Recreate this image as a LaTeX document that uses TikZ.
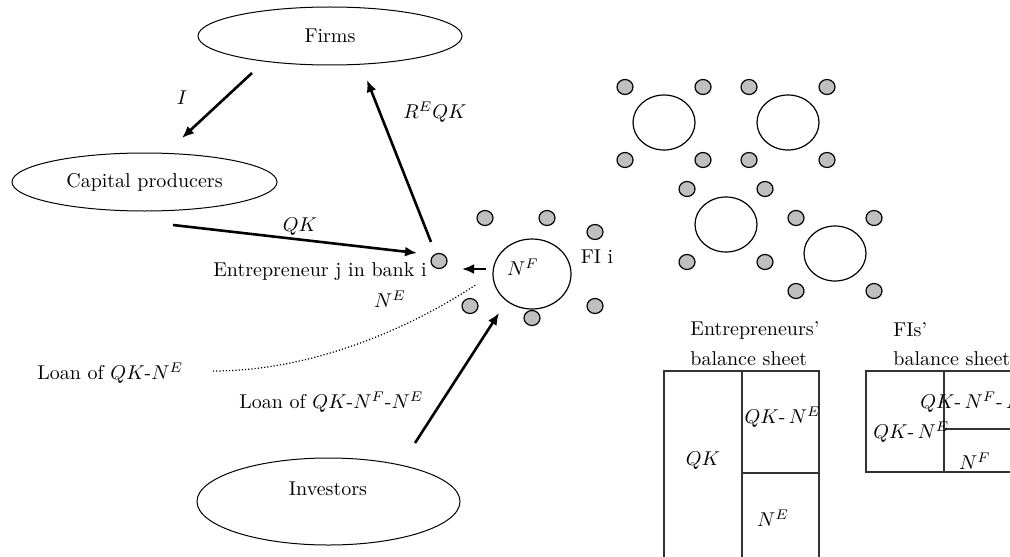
\documentclass[tikz,border=0pt]{standalone}
\usetikzlibrary{shapes.geometric,arrows.meta}
\begin{document}
\begin{tikzpicture}[x=0.5pt,y=-0.5pt,
  every node/.style={font=\fontsize{10}{12}\selectfont},
  oval/.style={ellipse,draw,line width=0.5pt,inner sep=0pt},
  dot/.style={ellipse,draw,fill=black!25,line width=0.6pt,minimum width=8pt,minimum height=7.5pt,inner sep=0pt},
  bank/.style={ellipse,draw,line width=0.6pt,minimum width=31pt,minimum height=27.5pt,inner sep=0pt},
  flow/.style={line width=1.3pt,-{Latex[length=6pt,width=5pt]}},
  txt/.style={inner sep=0pt},
  sheet/.style={draw=black!80,line width=0.6pt}]
\clip (0,0) rectangle (1010,556);

% sectors
\node[oval,minimum width=132pt,minimum height=29pt] (firms) at (330,36) {Firms};
\node[oval,minimum width=132.5pt,minimum height=29pt] (cap) at (144.5,182) {Capital producers};
\node[oval,minimum width=131.5pt,minimum height=43.5pt] (inv) at (328.5,501.5) {};
\node[txt] (invt) at (328,489) {Investors};

% FI i with its entrepreneurs
\node[dot] (ent) at (439,261) {};
\node[ellipse,draw,line width=0.6pt,minimum width=39pt,minimum height=35pt,inner sep=0pt] (fi) at (532,274) {};
\node[txt] (nf) at (523,267) {$N^{F}$};
\node[txt] (fil) at (597,257) {FI i};
\node[dot] (d1) at (485,218) {};
\node[dot] (d2) at (547,218) {};
\node[dot] (d3) at (595,232) {};
\node[dot] (d4) at (470,306) {};
\node[dot] (d5) at (532,318) {};
\node[dot] (d6) at (595,306) {};

% flows
\coordinate (iS) at (252,73);  \coordinate (iE) at (182,138);
\draw[flow] (iS) -- (iE);
\node[txt] (il) at (182,98) {$I$};

\coordinate (rS) at (431,242); \coordinate (rE) at (367,80);
\draw[flow] (rS) -- (rE);
\node[txt] (rl) at (435,112) {$R^{E}QK$};

\coordinate (qS) at (173,225); \coordinate (qE) at (417,253);
\draw[flow] (qS) -- (qE);
\node[txt] (ql) at (300,227) {$QK$};
\node[txt,anchor=east] (entl) at (427,272) {Entrepreneur j in bank i};

\coordinate (nS) at (486,269); \coordinate (nE) at (462,269);
\draw[flow] (nS) -- (nE);
\node[txt] (nel) at (390,299) {$N^{E}$};

\coordinate (lS) at (213,371); \coordinate (lE) at (477,284);
\draw[densely dotted,line width=0.6pt] (lS) .. controls (320,371) and (420,322) .. (lE);
\node[txt,anchor=west] (l1) at (37,373) {Loan of $QK$-$N^{E}$};
\node[txt,anchor=west] (l2) at (239,402) {Loan of $QK$-$N^{F}$-$N^{E}$};

\coordinate (vS) at (415,443); \coordinate (vE) at (499,313);
\draw[flow] (vS) -- (vE);

% other FIs
\foreach \cx/\cy/\n in {664/122.5/a,788/122.5/b,726/224.5/c,835/253.5/d}{
  \node[bank] (b\n) at (\cx,\cy) {};
  \node[dot] (b\n1) at (\cx-39,\cy-35.5) {};
  \node[dot] (b\n2) at (\cx+39,\cy-35.5) {};
  \node[dot] (b\n3) at (\cx-39,\cy+37.5) {};
  \node[dot] (b\n4) at (\cx+39,\cy+37.5) {};
}

% balance sheets
\node[txt,anchor=west] (eh1) at (690,330) {Entrepreneurs'};
\node[txt,anchor=west] (eh2) at (690,359) {balance sheet};
\draw[sheet] (664,600) -- (664,371) -- (819,371) -- (819,600);
\draw[sheet] (742,371) -- (742,600);
\draw[sheet] (742,473) -- (819,473);
\node[txt] (eqk) at (703,461) {$QK$};
\node[txt,anchor=east] (eqn) at (821,417) {$QK$-\,$N^{E}$};
\node[txt] (ene) at (773,518) {$N^{E}$};

\node[txt,anchor=west] (fh1) at (893,330) {FIs'};
\node[txt,anchor=west] (fh2) at (893,359) {balance sheet};
\draw[sheet] (1030,371) -- (866,371) -- (866,472) -- (1030,472);
\draw[sheet] (944,371) -- (944,472);
\draw[sheet] (944,429) -- (1030,429);
\node[txt,anchor=west] (fqn) at (873,432) {$QK$-\,$N^{E}$};
\node[txt,anchor=west] (fqnn) at (920,402) {$QK$-\,$N^{F}$-\,$N^{E}$};
\node[txt] (fnf) at (975,461) {$N^{F}$};
\end{tikzpicture}
\end{document}
